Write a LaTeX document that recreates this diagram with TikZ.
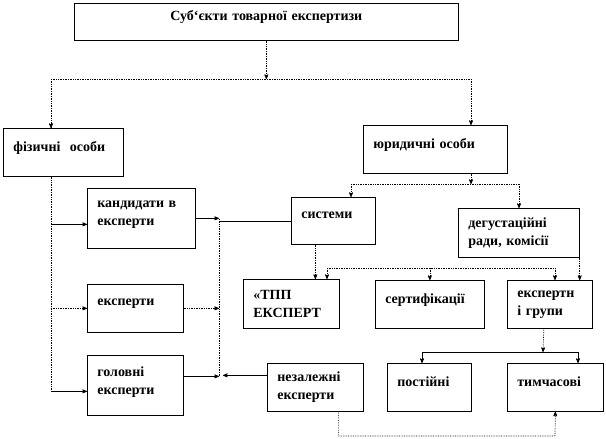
\documentclass[tikz,border=0pt]{standalone}
\usepackage{fontspec}
\setmainfont{Liberation Serif}
\usepackage{tikz}
\usetikzlibrary{arrows,positioning}

\tikzset{
  blok/.style={draw, line width=0.7pt, anchor=north west, inner xsep=10pt,
    inner ysep=2pt, align=left, font=\fontsize{14}{18}\selectfont\bfseries},
  vgoru/.style={text depth=12pt},
  zv/.style={densely dotted, line width=0.7pt},
  sv/.style={line width=0.7pt}
}

\begin{document}
\begin{tikzpicture}[x=1pt,y=-1pt,>=stealth']
      \useasboundingbox (0,0) rectangle (606,439);
      \node[blok, vgoru, align=center, text width=364pt, minimum height=37pt] (subj) at (74,3) {Суб`єкти товарної експертизи};
      \node[blok, vgoru, text width=100pt, minimum height=48pt] (fiz) at (3,128) {фізичні\ \ особи};
      \node[blok, vgoru, text width=124pt, minimum height=48pt] (jur) at (363,125) {юридичні особи};
      \node[blok, text depth=28pt, text width=88pt, minimum height=60pt] (kand) at (87,188) {кандидати в\\експерти};
      \node[blok, vgoru, text width=76pt, minimum height=48pt] (eksp) at (87,284) {експерти};
      \node[blok, text depth=28pt, text width=76pt, minimum height=60pt] (golov) at (87,355) {головні\\експерти};
      \node[blok, vgoru, text width=64pt, minimum height=47pt] (sist) at (291,197) {системи};
      \node[blok, text width=101pt, minimum height=49pt] (degust) at (458,208) {дегустаційні\\ради, комісії};
      \node[blok, text width=76pt, minimum height=49pt] (tpp) at (243,279) {«ТПП\\ЕКСПЕРТ};
      \node[blok, vgoru, text width=89pt, minimum height=48pt] (sert) at (375,280) {сертифікації};
      \node[blok, text width=65pt, minimum height=48pt] (grupy) at (507,280) {експертн\\і групи};
      \node[blok, text width=76pt, minimum height=48pt] (nez) at (267,363) {незалежні\\експерти};
      \node[blok, vgoru, text width=64pt, minimum height=48pt] (post) at (387,363) {постійні};
      \node[blok, vgoru, text width=76pt, minimum height=48pt] (tymch) at (507,363) {тимчасові};
      % shyny
      \coordinate (busL) at (51,79);
      \coordinate (busR) at (471,79);
      \coordinate (jbus) at (471,184);
      \coordinate (jbusL) at (351,184);
      \coordinate (jbusR) at (519,184);
      \coordinate (spineB) at (51,391);
      \coordinate (colT) at (219,219);
      \coordinate (colB) at (219,376);
      \coordinate (mbusL) at (327,268);
      \coordinate (mbusR) at (555,268);
      \coordinate (lbus) at (543,352);
      \coordinate (lbusL) at (422,352);
      \coordinate (lbusR) at (578,352);
      \coordinate (base) at (555,436);
      \coordinate (kandIn) at ([yshift=-6pt]kand.west);
      \coordinate (golovIn) at ([yshift=-6pt]golov.west);
      \coordinate (golovOut) at ([yshift=9pt]golov.east);
      \coordinate (nezIn) at ([yshift=12pt]nez.west);
      \coordinate (sistOut) at ([xshift=-18pt]sist.south);
      \coordinate (grOut) at ([xshift=-6pt]grupy.south);
      \coordinate (nezOut) at ([xshift=23pt]nez.south);
      % verkh
      \draw[zv,->] (subj.south) -- (subj.south |- busL);
      \draw[zv] (busL) -- (busR);
      \draw[zv,->] (busL) -- (busL |- fiz.north);
      \draw[zv,->] (busR) -- (busR |- jur.north);
      \draw[zv,->] (jur.south -| jbus) -- (jbus);
      \draw[zv] (jbusL) -- (jbusR);
      \draw[zv,->] (jbusL) -- (jbusL |- sist.north);
      \draw[zv,->] (jbusR) -- (jbusR |- degust.north);
      % fizychni osoby
      \draw[zv] (fiz.south -| spineB) -- (spineB);
      \draw[sv,->] (kandIn -| spineB) -- (kandIn);
      \draw[zv,->] (eksp.west -| spineB) -- (eksp.west);
      \draw[sv,->] (golovIn -| spineB) -- (golovIn);
      \draw[zv] (colT) -- (colB);
      \draw[sv,->] (kand.east) -- (kand.east -| colT);
      \draw[zv,->] (eksp.east) -- (eksp.east -| colT);
      \draw[sv,->] (golovOut) -- (golovOut -| colT);
      \draw[sv,->] (nezIn) -- ([xshift=4pt]nezIn -| colT);
      \draw[sv] (sist.west -| colT) -- (sist.west);
      % yurydychni osoby
      \draw[zv,->] (sistOut) -- (sistOut |- tpp.north);
      \draw[zv] (mbusL) -- (mbusR);
      \draw[zv,->] (mbusL) -- (mbusL |- tpp.north);
      \draw[zv,->] (sert.north |- mbusL) -- (sert.north);
      \draw[zv,->] (mbusR) -- (mbusR |- grupy.north);
      \draw[zv,->] (degust.south east) -- (degust.south east |- grupy.north);
      \draw[zv,->] (grOut) -- (lbus);
      \draw[sv] (lbusL) -- (lbusR);
      \draw[sv,->] (lbusL) -- (lbusL |- post.north);
      \draw[sv,->] (lbusR) -- (lbusR |- tymch.north);
      \draw[zv,->] (nezOut) |- (base) -- (tymch.south);
    \end{tikzpicture}
\end{document}
